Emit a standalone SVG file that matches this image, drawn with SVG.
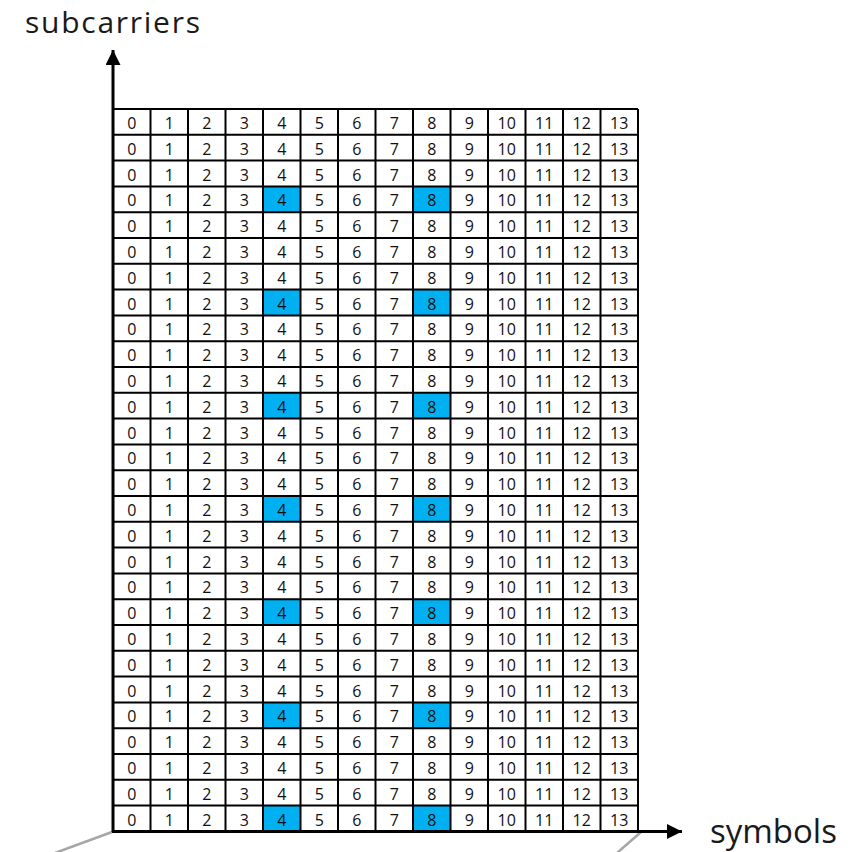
<svg xmlns="http://www.w3.org/2000/svg" width="861" height="852" viewBox="0 0 861 852">
<style>
.lbl{font-family:"Open Sans","Noto Sans",sans-serif;font-size:33px;fill:#1a1a1a}
.num{font-family:"Open Sans","Noto Sans",sans-serif;font-size:16px;fill:#111;text-anchor:middle}
.hl{fill:#00B0F0}
.grid{stroke:#000;stroke-width:2;fill:none}
.axis{stroke:#000;stroke-width:3;fill:none}
.gray{stroke:#a6a6a6;stroke-width:2.5;fill:none}
</style>
<defs>
<marker id="ah" viewBox="0 0 10 10" refX="10" refY="5" markerWidth="5" markerHeight="5" orient="auto" markerUnits="strokeWidth">
<path d="M0,0 L10,5 L0,10 z" fill="#000"/>
</marker>
</defs>
<rect width="861" height="852" fill="#fff"/>
<g id="highlights">
<rect class="hl" x="263" y="186.4" width="37.5" height="25.8"/><rect class="hl" x="413" y="186.4" width="37.5" height="25.8"/>
<rect class="hl" x="263" y="289.6" width="37.5" height="25.8"/><rect class="hl" x="413" y="289.6" width="37.5" height="25.8"/>
<rect class="hl" x="263" y="392.8" width="37.5" height="25.8"/><rect class="hl" x="413" y="392.8" width="37.5" height="25.8"/>
<rect class="hl" x="263" y="496" width="37.5" height="25.8"/><rect class="hl" x="413" y="496" width="37.5" height="25.8"/>
<rect class="hl" x="263" y="599.2" width="37.5" height="25.8"/><rect class="hl" x="413" y="599.2" width="37.5" height="25.8"/>
<rect class="hl" x="263" y="702.4" width="37.5" height="25.8"/><rect class="hl" x="413" y="702.4" width="37.5" height="25.8"/>
<rect class="hl" x="263" y="805.6" width="37.5" height="25.8"/><rect class="hl" x="413" y="805.6" width="37.5" height="25.8"/>
</g>
<g id="grid">
<path class="grid" d="M113,109H638 M113,134.8H638 M113,160.6H638 M113,186.4H638 M113,212.2H638 M113,238H638 M113,263.8H638 M113,289.6H638 M113,315.4H638 M113,341.2H638 M113,367H638 M113,392.8H638 M113,418.6H638 M113,444.4H638 M113,470.2H638 M113,496H638 M113,521.8H638 M113,547.6H638 M113,573.4H638 M113,599.2H638 M113,625H638 M113,650.8H638 M113,676.6H638 M113,702.4H638 M113,728.2H638 M113,754H638 M113,779.8H638 M113,805.6H638"/>
<path class="grid" d="M150.5,109V831.4 M188,109V831.4 M225.5,109V831.4 M263,109V831.4 M300.5,109V831.4 M338,109V831.4 M375.5,109V831.4 M413,109V831.4 M450.5,109V831.4 M488,109V831.4 M525.5,109V831.4 M563,109V831.4 M600.5,109V831.4 M638,109V831.4"/>
</g>
<g id="numbers">
<text class="num" y="129"><tspan x="131.75">0</tspan><tspan x="169.25">1</tspan><tspan x="206.75">2</tspan><tspan x="244.25">3</tspan><tspan x="281.75">4</tspan><tspan x="319.25">5</tspan><tspan x="356.75">6</tspan><tspan x="394.25">7</tspan><tspan x="431.75">8</tspan><tspan x="469.25">9</tspan><tspan x="506.75">10</tspan><tspan x="544.25">11</tspan><tspan x="581.75">12</tspan><tspan x="619.25">13</tspan></text>
<text class="num" y="154.8"><tspan x="131.75">0</tspan><tspan x="169.25">1</tspan><tspan x="206.75">2</tspan><tspan x="244.25">3</tspan><tspan x="281.75">4</tspan><tspan x="319.25">5</tspan><tspan x="356.75">6</tspan><tspan x="394.25">7</tspan><tspan x="431.75">8</tspan><tspan x="469.25">9</tspan><tspan x="506.75">10</tspan><tspan x="544.25">11</tspan><tspan x="581.75">12</tspan><tspan x="619.25">13</tspan></text>
<text class="num" y="180.6"><tspan x="131.75">0</tspan><tspan x="169.25">1</tspan><tspan x="206.75">2</tspan><tspan x="244.25">3</tspan><tspan x="281.75">4</tspan><tspan x="319.25">5</tspan><tspan x="356.75">6</tspan><tspan x="394.25">7</tspan><tspan x="431.75">8</tspan><tspan x="469.25">9</tspan><tspan x="506.75">10</tspan><tspan x="544.25">11</tspan><tspan x="581.75">12</tspan><tspan x="619.25">13</tspan></text>
<text class="num" y="206.4"><tspan x="131.75">0</tspan><tspan x="169.25">1</tspan><tspan x="206.75">2</tspan><tspan x="244.25">3</tspan><tspan x="281.75">4</tspan><tspan x="319.25">5</tspan><tspan x="356.75">6</tspan><tspan x="394.25">7</tspan><tspan x="431.75">8</tspan><tspan x="469.25">9</tspan><tspan x="506.75">10</tspan><tspan x="544.25">11</tspan><tspan x="581.75">12</tspan><tspan x="619.25">13</tspan></text>
<text class="num" y="232.2"><tspan x="131.75">0</tspan><tspan x="169.25">1</tspan><tspan x="206.75">2</tspan><tspan x="244.25">3</tspan><tspan x="281.75">4</tspan><tspan x="319.25">5</tspan><tspan x="356.75">6</tspan><tspan x="394.25">7</tspan><tspan x="431.75">8</tspan><tspan x="469.25">9</tspan><tspan x="506.75">10</tspan><tspan x="544.25">11</tspan><tspan x="581.75">12</tspan><tspan x="619.25">13</tspan></text>
<text class="num" y="258"><tspan x="131.75">0</tspan><tspan x="169.25">1</tspan><tspan x="206.75">2</tspan><tspan x="244.25">3</tspan><tspan x="281.75">4</tspan><tspan x="319.25">5</tspan><tspan x="356.75">6</tspan><tspan x="394.25">7</tspan><tspan x="431.75">8</tspan><tspan x="469.25">9</tspan><tspan x="506.75">10</tspan><tspan x="544.25">11</tspan><tspan x="581.75">12</tspan><tspan x="619.25">13</tspan></text>
<text class="num" y="283.8"><tspan x="131.75">0</tspan><tspan x="169.25">1</tspan><tspan x="206.75">2</tspan><tspan x="244.25">3</tspan><tspan x="281.75">4</tspan><tspan x="319.25">5</tspan><tspan x="356.75">6</tspan><tspan x="394.25">7</tspan><tspan x="431.75">8</tspan><tspan x="469.25">9</tspan><tspan x="506.75">10</tspan><tspan x="544.25">11</tspan><tspan x="581.75">12</tspan><tspan x="619.25">13</tspan></text>
<text class="num" y="309.6"><tspan x="131.75">0</tspan><tspan x="169.25">1</tspan><tspan x="206.75">2</tspan><tspan x="244.25">3</tspan><tspan x="281.75">4</tspan><tspan x="319.25">5</tspan><tspan x="356.75">6</tspan><tspan x="394.25">7</tspan><tspan x="431.75">8</tspan><tspan x="469.25">9</tspan><tspan x="506.75">10</tspan><tspan x="544.25">11</tspan><tspan x="581.75">12</tspan><tspan x="619.25">13</tspan></text>
<text class="num" y="335.4"><tspan x="131.75">0</tspan><tspan x="169.25">1</tspan><tspan x="206.75">2</tspan><tspan x="244.25">3</tspan><tspan x="281.75">4</tspan><tspan x="319.25">5</tspan><tspan x="356.75">6</tspan><tspan x="394.25">7</tspan><tspan x="431.75">8</tspan><tspan x="469.25">9</tspan><tspan x="506.75">10</tspan><tspan x="544.25">11</tspan><tspan x="581.75">12</tspan><tspan x="619.25">13</tspan></text>
<text class="num" y="361.2"><tspan x="131.75">0</tspan><tspan x="169.25">1</tspan><tspan x="206.75">2</tspan><tspan x="244.25">3</tspan><tspan x="281.75">4</tspan><tspan x="319.25">5</tspan><tspan x="356.75">6</tspan><tspan x="394.25">7</tspan><tspan x="431.75">8</tspan><tspan x="469.25">9</tspan><tspan x="506.75">10</tspan><tspan x="544.25">11</tspan><tspan x="581.75">12</tspan><tspan x="619.25">13</tspan></text>
<text class="num" y="387"><tspan x="131.75">0</tspan><tspan x="169.25">1</tspan><tspan x="206.75">2</tspan><tspan x="244.25">3</tspan><tspan x="281.75">4</tspan><tspan x="319.25">5</tspan><tspan x="356.75">6</tspan><tspan x="394.25">7</tspan><tspan x="431.75">8</tspan><tspan x="469.25">9</tspan><tspan x="506.75">10</tspan><tspan x="544.25">11</tspan><tspan x="581.75">12</tspan><tspan x="619.25">13</tspan></text>
<text class="num" y="412.8"><tspan x="131.75">0</tspan><tspan x="169.25">1</tspan><tspan x="206.75">2</tspan><tspan x="244.25">3</tspan><tspan x="281.75">4</tspan><tspan x="319.25">5</tspan><tspan x="356.75">6</tspan><tspan x="394.25">7</tspan><tspan x="431.75">8</tspan><tspan x="469.25">9</tspan><tspan x="506.75">10</tspan><tspan x="544.25">11</tspan><tspan x="581.75">12</tspan><tspan x="619.25">13</tspan></text>
<text class="num" y="438.6"><tspan x="131.75">0</tspan><tspan x="169.25">1</tspan><tspan x="206.75">2</tspan><tspan x="244.25">3</tspan><tspan x="281.75">4</tspan><tspan x="319.25">5</tspan><tspan x="356.75">6</tspan><tspan x="394.25">7</tspan><tspan x="431.75">8</tspan><tspan x="469.25">9</tspan><tspan x="506.75">10</tspan><tspan x="544.25">11</tspan><tspan x="581.75">12</tspan><tspan x="619.25">13</tspan></text>
<text class="num" y="464.4"><tspan x="131.75">0</tspan><tspan x="169.25">1</tspan><tspan x="206.75">2</tspan><tspan x="244.25">3</tspan><tspan x="281.75">4</tspan><tspan x="319.25">5</tspan><tspan x="356.75">6</tspan><tspan x="394.25">7</tspan><tspan x="431.75">8</tspan><tspan x="469.25">9</tspan><tspan x="506.75">10</tspan><tspan x="544.25">11</tspan><tspan x="581.75">12</tspan><tspan x="619.25">13</tspan></text>
<text class="num" y="490.2"><tspan x="131.75">0</tspan><tspan x="169.25">1</tspan><tspan x="206.75">2</tspan><tspan x="244.25">3</tspan><tspan x="281.75">4</tspan><tspan x="319.25">5</tspan><tspan x="356.75">6</tspan><tspan x="394.25">7</tspan><tspan x="431.75">8</tspan><tspan x="469.25">9</tspan><tspan x="506.75">10</tspan><tspan x="544.25">11</tspan><tspan x="581.75">12</tspan><tspan x="619.25">13</tspan></text>
<text class="num" y="516"><tspan x="131.75">0</tspan><tspan x="169.25">1</tspan><tspan x="206.75">2</tspan><tspan x="244.25">3</tspan><tspan x="281.75">4</tspan><tspan x="319.25">5</tspan><tspan x="356.75">6</tspan><tspan x="394.25">7</tspan><tspan x="431.75">8</tspan><tspan x="469.25">9</tspan><tspan x="506.75">10</tspan><tspan x="544.25">11</tspan><tspan x="581.75">12</tspan><tspan x="619.25">13</tspan></text>
<text class="num" y="541.8"><tspan x="131.75">0</tspan><tspan x="169.25">1</tspan><tspan x="206.75">2</tspan><tspan x="244.25">3</tspan><tspan x="281.75">4</tspan><tspan x="319.25">5</tspan><tspan x="356.75">6</tspan><tspan x="394.25">7</tspan><tspan x="431.75">8</tspan><tspan x="469.25">9</tspan><tspan x="506.75">10</tspan><tspan x="544.25">11</tspan><tspan x="581.75">12</tspan><tspan x="619.25">13</tspan></text>
<text class="num" y="567.6"><tspan x="131.75">0</tspan><tspan x="169.25">1</tspan><tspan x="206.75">2</tspan><tspan x="244.25">3</tspan><tspan x="281.75">4</tspan><tspan x="319.25">5</tspan><tspan x="356.75">6</tspan><tspan x="394.25">7</tspan><tspan x="431.75">8</tspan><tspan x="469.25">9</tspan><tspan x="506.75">10</tspan><tspan x="544.25">11</tspan><tspan x="581.75">12</tspan><tspan x="619.25">13</tspan></text>
<text class="num" y="593.4"><tspan x="131.75">0</tspan><tspan x="169.25">1</tspan><tspan x="206.75">2</tspan><tspan x="244.25">3</tspan><tspan x="281.75">4</tspan><tspan x="319.25">5</tspan><tspan x="356.75">6</tspan><tspan x="394.25">7</tspan><tspan x="431.75">8</tspan><tspan x="469.25">9</tspan><tspan x="506.75">10</tspan><tspan x="544.25">11</tspan><tspan x="581.75">12</tspan><tspan x="619.25">13</tspan></text>
<text class="num" y="619.2"><tspan x="131.75">0</tspan><tspan x="169.25">1</tspan><tspan x="206.75">2</tspan><tspan x="244.25">3</tspan><tspan x="281.75">4</tspan><tspan x="319.25">5</tspan><tspan x="356.75">6</tspan><tspan x="394.25">7</tspan><tspan x="431.75">8</tspan><tspan x="469.25">9</tspan><tspan x="506.75">10</tspan><tspan x="544.25">11</tspan><tspan x="581.75">12</tspan><tspan x="619.25">13</tspan></text>
<text class="num" y="645"><tspan x="131.75">0</tspan><tspan x="169.25">1</tspan><tspan x="206.75">2</tspan><tspan x="244.25">3</tspan><tspan x="281.75">4</tspan><tspan x="319.25">5</tspan><tspan x="356.75">6</tspan><tspan x="394.25">7</tspan><tspan x="431.75">8</tspan><tspan x="469.25">9</tspan><tspan x="506.75">10</tspan><tspan x="544.25">11</tspan><tspan x="581.75">12</tspan><tspan x="619.25">13</tspan></text>
<text class="num" y="670.8"><tspan x="131.75">0</tspan><tspan x="169.25">1</tspan><tspan x="206.75">2</tspan><tspan x="244.25">3</tspan><tspan x="281.75">4</tspan><tspan x="319.25">5</tspan><tspan x="356.75">6</tspan><tspan x="394.25">7</tspan><tspan x="431.75">8</tspan><tspan x="469.25">9</tspan><tspan x="506.75">10</tspan><tspan x="544.25">11</tspan><tspan x="581.75">12</tspan><tspan x="619.25">13</tspan></text>
<text class="num" y="696.6"><tspan x="131.75">0</tspan><tspan x="169.25">1</tspan><tspan x="206.75">2</tspan><tspan x="244.25">3</tspan><tspan x="281.75">4</tspan><tspan x="319.25">5</tspan><tspan x="356.75">6</tspan><tspan x="394.25">7</tspan><tspan x="431.75">8</tspan><tspan x="469.25">9</tspan><tspan x="506.75">10</tspan><tspan x="544.25">11</tspan><tspan x="581.75">12</tspan><tspan x="619.25">13</tspan></text>
<text class="num" y="722.4"><tspan x="131.75">0</tspan><tspan x="169.25">1</tspan><tspan x="206.75">2</tspan><tspan x="244.25">3</tspan><tspan x="281.75">4</tspan><tspan x="319.25">5</tspan><tspan x="356.75">6</tspan><tspan x="394.25">7</tspan><tspan x="431.75">8</tspan><tspan x="469.25">9</tspan><tspan x="506.75">10</tspan><tspan x="544.25">11</tspan><tspan x="581.75">12</tspan><tspan x="619.25">13</tspan></text>
<text class="num" y="748.2"><tspan x="131.75">0</tspan><tspan x="169.25">1</tspan><tspan x="206.75">2</tspan><tspan x="244.25">3</tspan><tspan x="281.75">4</tspan><tspan x="319.25">5</tspan><tspan x="356.75">6</tspan><tspan x="394.25">7</tspan><tspan x="431.75">8</tspan><tspan x="469.25">9</tspan><tspan x="506.75">10</tspan><tspan x="544.25">11</tspan><tspan x="581.75">12</tspan><tspan x="619.25">13</tspan></text>
<text class="num" y="774"><tspan x="131.75">0</tspan><tspan x="169.25">1</tspan><tspan x="206.75">2</tspan><tspan x="244.25">3</tspan><tspan x="281.75">4</tspan><tspan x="319.25">5</tspan><tspan x="356.75">6</tspan><tspan x="394.25">7</tspan><tspan x="431.75">8</tspan><tspan x="469.25">9</tspan><tspan x="506.75">10</tspan><tspan x="544.25">11</tspan><tspan x="581.75">12</tspan><tspan x="619.25">13</tspan></text>
<text class="num" y="799.8"><tspan x="131.75">0</tspan><tspan x="169.25">1</tspan><tspan x="206.75">2</tspan><tspan x="244.25">3</tspan><tspan x="281.75">4</tspan><tspan x="319.25">5</tspan><tspan x="356.75">6</tspan><tspan x="394.25">7</tspan><tspan x="431.75">8</tspan><tspan x="469.25">9</tspan><tspan x="506.75">10</tspan><tspan x="544.25">11</tspan><tspan x="581.75">12</tspan><tspan x="619.25">13</tspan></text>
<text class="num" y="825.6"><tspan x="131.75">0</tspan><tspan x="169.25">1</tspan><tspan x="206.75">2</tspan><tspan x="244.25">3</tspan><tspan x="281.75">4</tspan><tspan x="319.25">5</tspan><tspan x="356.75">6</tspan><tspan x="394.25">7</tspan><tspan x="431.75">8</tspan><tspan x="469.25">9</tspan><tspan x="506.75">10</tspan><tspan x="544.25">11</tspan><tspan x="581.75">12</tspan><tspan x="619.25">13</tspan></text>
</g>
<g id="connectors">
<line class="gray" x1="55" y1="853" x2="112" y2="832"/>
<line class="gray" x1="617" y1="853" x2="641" y2="832"/>
<path class="axis" d="M113,832 V50" marker-end="url(#ah)"/>
<path class="axis" d="M112,831.5 H682" marker-end="url(#ah)"/>
</g>
<g id="labels">
<text class="lbl" x="25" y="33" style="font-size:30px" textLength="175" lengthAdjust="spacing">subcarriers</text>
<text class="lbl" x="710" y="843">symbols</text>
</g>
</svg>
